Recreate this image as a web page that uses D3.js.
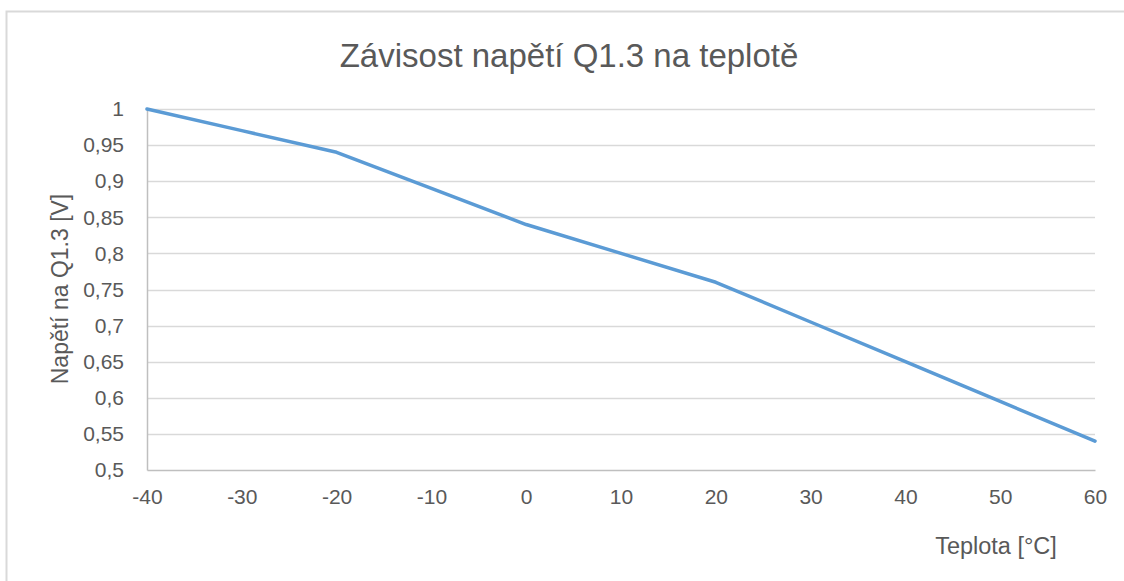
<!DOCTYPE html>
<html>
<head>
<meta charset="utf-8">
<script src="https://cdn.jsdelivr.net/npm/d3@7"></script>
<style>
  html, body { margin: 0; padding: 0; background: #fff; }
  svg text { font-family: "Liberation Sans", sans-serif; fill: #595959; }
</style>
</head>
<body>
<svg id="chart" width="1124" height="581"></svg>
<script>
// data
const temps = [-40, -30, -20, -10, 0, 10, 20, 30, 40, 50, 60];
const voltages = [1.0, 0.97, 0.94, 0.89, 0.84, 0.80, 0.76, 0.705, 0.65, 0.595, 0.54];
const xTicks = [-40, -30, -20, -10, 0, 10, 20, 30, 40, 50, 60];
const yTicks = [0.5, 0.55, 0.6, 0.65, 0.7, 0.75, 0.8, 0.85, 0.9, 0.95, 1];
const titleText = 'Závisost napětí Q1.3 na teplotě';
const xTitle = 'Teplota [°C]';
const yTitle = 'Napětí na Q1.3 [V]';

const svg = d3.select('svg#chart');

// plot area
const plotLeft = 147, plotRight = 1095, plotTop = 109, plotBottom = 470;
const gridColor = '#d9d9d9',
    axisColor = '#bfbfbf',
    lineColor = '#5b9bd5';

const x = d3.scaleLinear().domain([-40, 60]).range([plotLeft, plotRight]);
const y = d3.scaleLinear().domain([0.5, 1]).range([plotBottom, plotTop]);

// outer frame (cut off at right and bottom)
svg.append('rect')
    .attr('x', 6.5).attr('y', 11.5)
    .attr('width', 1140).attr('height', 600)
    .attr('fill', 'none')
    .attr('stroke', '#d9d9d9')
    .attr('stroke-width', 2);

// title
svg.append('text')
    .attr('x', 569).attr('y', 67)
    .attr('text-anchor', 'middle')
    .attr('font-size', 33)
    .text(titleText);

// horizontal gridlines
svg.append('g')
    .selectAll('line')
    .data(yTicks.filter(d => d > 0.5))
    .join('line')
    .attr('x1', plotLeft).attr('x2', plotRight)
    .attr('y1', d => Math.round(y(d)) + 0.5)
    .attr('y2', d => Math.round(y(d)) + 0.5)
    .attr('stroke', gridColor)
    .attr('stroke-width', 1.3);

// y axis
const yAxis = d3.axisLeft(y)
    .tickValues(yTicks)
    .tickSize(0)
    .tickPadding(23)
    .tickFormat(d => String(+d.toFixed(2)).replace('.', ','));
const gy = svg.append('g')
    .attr('transform', `translate(${plotLeft},0)`)
    .call(yAxis);
gy.select('.domain').attr('stroke', axisColor).attr('stroke-width', 1.5);
gy.selectAll('.tick text')
    .attr('font-size', 21)
    .attr('fill', '#595959')
    .attr('font-family', null);

// x axis
const xAxis = d3.axisBottom(x)
    .tickValues(xTicks)
    .tickSize(0)
    .tickPadding(19)
    .tickFormat(d => String(d));
const gx = svg.append('g')
    .attr('transform', `translate(0,${plotBottom})`)
    .call(xAxis);
gx.select('.domain').attr('stroke', axisColor).attr('stroke-width', 1.5);
gx.selectAll('.tick text')
    .attr('font-size', 21)
    .attr('fill', '#595959')
    .attr('font-family', null);

// axis titles
svg.append('text')
    .attr('x', 996).attr('y', 554)
    .attr('text-anchor', 'middle')
    .attr('font-size', 23.5)
    .text(xTitle);

svg.append('text')
    .attr('transform', 'translate(68,289) rotate(-90)')
    .attr('text-anchor', 'middle')
    .attr('font-size', 23)
    .text(yTitle);

// series line
const line = d3.line()
    .x((d, i) => x(temps[i]))
    .y(d => y(d));

svg.append('path')
    .datum(voltages)
    .attr('d', line)
    .attr('fill', 'none')
    .attr('stroke', lineColor)
    .attr('stroke-width', 3.5)
    .attr('stroke-linejoin', 'round')
    .attr('stroke-linecap', 'round');
</script>
</body>
</html>
